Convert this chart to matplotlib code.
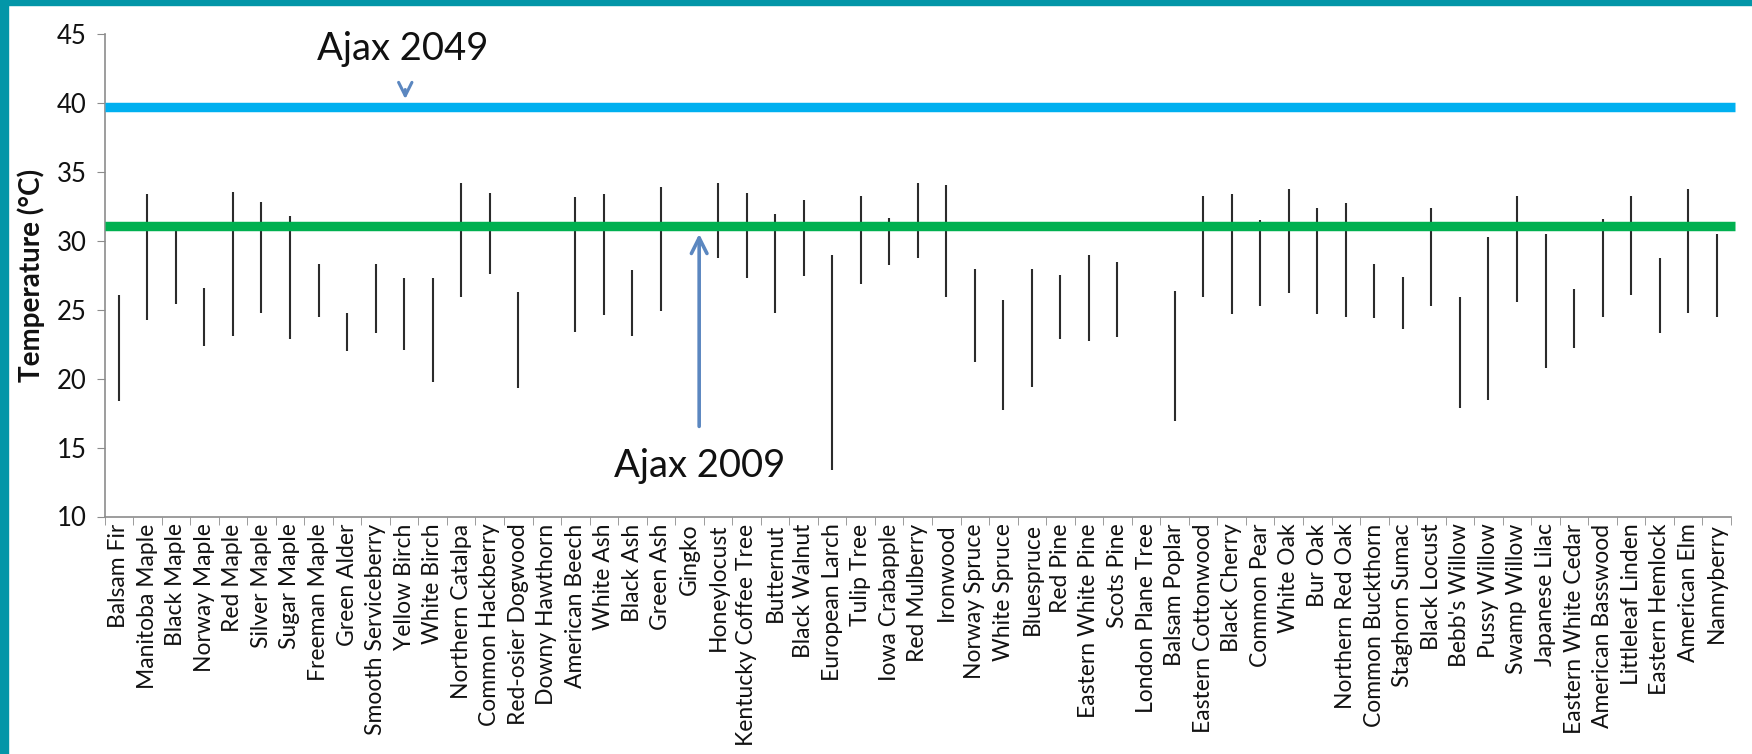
import numpy as np
import matplotlib
matplotlib.use("Agg")
import matplotlib.pyplot as plt
from matplotlib.patches import Rectangle

plt.rcParams['font.family'] = ['Lato', 'DejaVu Sans']

species = ["Balsam Fir", "Manitoba Maple", "Black Maple", "Norway Maple", "Red Maple",
           "Silver Maple", "Sugar Maple", "Freeman Maple", "Green Alder", "Smooth Serviceberry",
           "Yellow Birch", "White Birch", "Northern Catalpa", "Common Hackberry", "Red-osier Dogwood",
           "Downy Hawthorn", "American Beech", "White Ash", "Black Ash", "Green Ash",
           "Gingko", "Honeylocust", "Kentucky Coffee Tree", "Butternut", "Black Walnut",
           "European Larch", "Tulip Tree", "Iowa Crabapple", "Red Mulberry", "Ironwood",
           "Norway Spruce", "White Spruce", "Bluespruce", "Red Pine", "Eastern White Pine",
           "Scots Pine", "London Plane Tree", "Balsam Poplar", "Eastern Cottonwood", "Black Cherry",
           "Common Pear", "White Oak", "Bur Oak", "Northern Red Oak", "Common Buckthorn",
           "Staghorn Sumac", "Black Locust", "Bebb's Willow", "Pussy Willow", "Swamp Willow",
           "Japanese Lilac", "Eastern White Cedar", "American Basswood", "Littleleaf Linden",
           "Eastern Hemlock", "American Elm", "Nannyberry"]

temp_high = [26.05, 33.4, 30.9, 26.6, 33.55,
             32.8, 31.8, 28.3, 24.8, 28.3,
             27.3, 27.3, 34.2, 33.45, 26.3,
             np.nan, 33.2, 33.4, 27.9, 33.9,
             np.nan, 34.2, 33.5, 31.95, 33.0,
             29.0, 33.3, 31.7, 34.2, 34.05,
             28.0, 25.7, 27.95, 27.5, 29.0,
             28.45, np.nan, 26.4, 33.3, 33.4,
             31.55, 33.75, 32.4, 32.75, 28.3,
             27.4, 32.4, 25.95, 30.3, 33.3,
             30.5, 26.55, 31.6, 33.25,
             28.75, 33.75, 30.5]

temp_low = [18.4, 24.3, 25.4, 22.4, 23.1,
            24.8, 22.9, 24.5, 22.0, 23.3,
            22.1, 19.8, 25.9, 27.6, 19.3,
            np.nan, 23.4, 24.6, 23.1, 24.9,
            np.nan, 28.8, 27.3, 24.8, 27.45,
            13.4, 26.9, 28.25, 28.8, 25.9,
            21.25, 17.75, 19.4, 22.9, 22.75,
            23.0, np.nan, 16.9, 25.95, 24.7,
            25.3, 26.2, 24.7, 24.5, 24.4,
            23.6, 25.3, 17.9, 18.45, 25.6,
            20.8, 22.2, 24.5, 26.1,
            23.3, 24.75, 24.5]

ajax_2049 = 39.75
ajax_2009 = 31.1
yticks = [10, 15, 20, 25, 30, 35, 40, 45]

W, H = 1752, 754
fig = plt.figure(figsize=(W / 100, H / 100), dpi=100)
ax = fig.add_axes([104.5 / W, 1 - 516.5 / H, (1731 - 104.5) / W, (516.5 - 34.4) / H])

n = len(species)
x = np.arange(n) + 0.5
ax.vlines(x, temp_low, temp_high, colors='#2b2b2b', linewidth=1.5, zorder=2)

ax.axhline(ajax_2049, xmin=0.0, xmax=1.0025, color='#00B0F0', linewidth=6.8, zorder=3,
           clip_on=False, solid_capstyle='butt')
ax.axhline(ajax_2009, xmin=0.0, xmax=1.0025, color='#00B050', linewidth=6.8, zorder=3,
           clip_on=False, solid_capstyle='butt')

ax.set_xlim(0, n)
ax.set_ylim(10, 45)
ax.set_yticks(yticks)
ax.set_yticklabels([str(v) for v in yticks], fontsize=18.5, color='#111111')
ax.set_xticks(x)
ax.set_xticklabels(species, rotation=90, fontsize=16.5, color='#111111')
ax.set_xticks(np.arange(n + 1), minor=True)
ax.tick_params(axis='x', which='major', length=0, pad=5)
ax.tick_params(axis='x', which='minor', length=6, color='#8c8c8c', direction='out')
ax.tick_params(axis='y', which='major', length=6, color='#8c8c8c', direction='out', pad=7)

for s in ['top', 'right']:
    ax.spines[s].set_visible(False)
for s in ['left', 'bottom']:
    ax.spines[s].set_color('#8c8c8c')
    ax.spines[s].set_linewidth(1.2)

ax.set_ylabel('Temperature (°C)', fontsize=20, fontweight='bold', labelpad=8, color='#111111')

arrow_col = '#5B87C0'
ax.text(10.44, 43.94, 'Ajax 2049', fontsize=27.5, ha='center', va='center', color='#111111')
ax.annotate('', xy=(10.54, 40.1), xytext=(10.54, 41.2),
            arrowprops=dict(arrowstyle='->', color=arrow_col, lw=2.2, mutation_scale=24))
ax.text(20.84, 13.66, 'Ajax 2009', fontsize=27.5, ha='center', va='center', color='#111111')
ax.annotate('', xy=(20.84, 30.72), xytext=(20.84, 16.34),
            arrowprops=dict(arrowstyle='->', color=arrow_col, lw=2.6, mutation_scale=28))

teal = '#0396A8'
fig.patches.append(Rectangle((0, 0), 8.4 / W, 1, transform=fig.transFigure, color=teal, zorder=10))
fig.patches.append(Rectangle((0, 1 - 5 / H), 1, 5 / H, transform=fig.transFigure, color=teal, zorder=10))

fig.savefig('out.png', dpi=100, facecolor='white')
